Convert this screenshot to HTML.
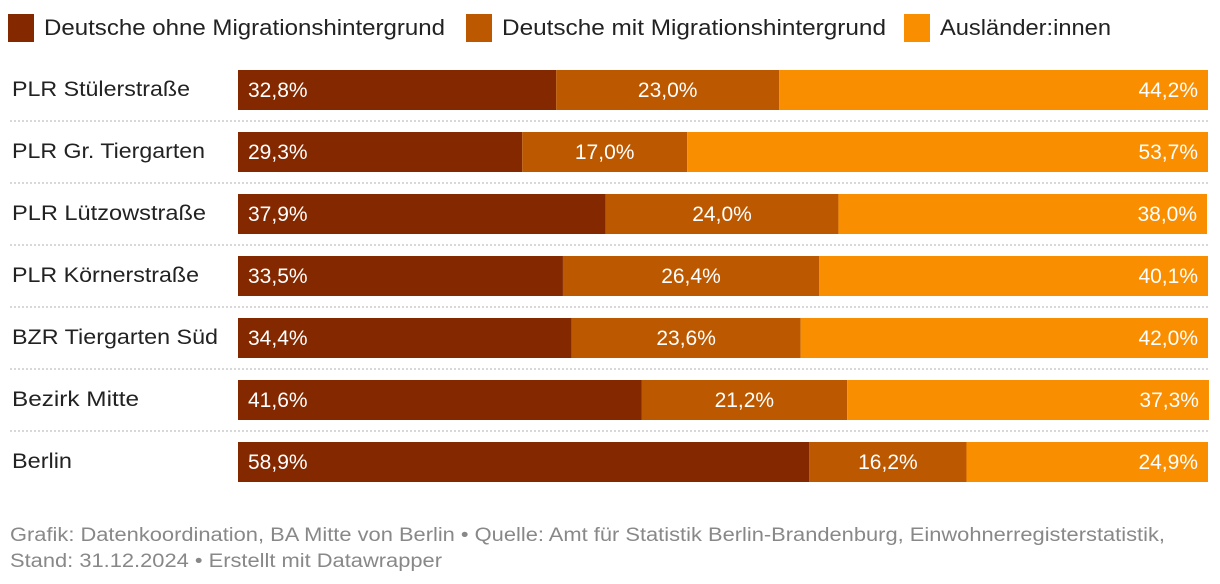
<!DOCTYPE html>
<html><head><meta charset="utf-8">
<style>
body{margin:0;background:#fff;font-family:"Liberation Sans",sans-serif;}
svg{display:block}
</style></head>
<body>
<svg id="chart" width="1220" height="584"></svg>
<script>
const categories=["PLR Stülerstraße","PLR Gr. Tiergarten","PLR Lützowstraße","PLR Körnerstraße","BZR Tiergarten Süd","Bezirk Mitte","Berlin"];
const seriesNames=["Deutsche ohne Migrationshintergrund","Deutsche mit Migrationshintergrund","Ausländer:innen"];
const ohne=[32.8,29.3,37.9,33.5,34.4,41.6,58.9];
const mit=[23.0,17.0,24.0,26.4,23.6,21.2,16.2];
const ausl=[44.2,53.7,38.0,40.1,42.0,37.3,24.9];
const colors=["#842800","#bb5800","#f98e00"];
const NS="http://www.w3.org/2000/svg";
const svg=document.getElementById('chart');
function mk(t,a,txt){const e=document.createElementNS(NS,t);for(const k in a)e.setAttribute(k,a[k]);if(txt!=null)e.textContent=txt;svg.appendChild(e);return e;}
const x0=238,W=970;
const xs=v=>x0+v/100*W;
const ys=i=>70+i*62;
const legX=[8,466,904];
const legW=[401,384,171];
seriesNames.forEach((n,i)=>{
 const r=mk('rect',{x:legX[i],y:14,width:26,height:28,fill:colors[i]});
 
 
 const t=mk('text',{x:legX[i]+36,y:35,'font-size':22,fill:'#222',textLength:legW[i],lengthAdjust:'spacingAndGlyphs'},n);
 
 
});
const labW=[178,193,194,187,206,127,60];
const fmt=v=>v.toFixed(1).replace('.',',')+'%';
categories.forEach((c,i)=>{
 const y=ys(i);
 const lab=mk('text',{x:12,y:y+26,'font-size':21,fill:'#222',textLength:labW[i],lengthAdjust:'spacingAndGlyphs'},c);
 
 
 const vals=[ohne[i],mit[i],ausl[i]];
 let acc=0;
 vals.forEach((v,j)=>{
  const xa=xs(acc),xb=xs(acc+v);
  const r=mk('rect',{x:xa,y:y,width:xb-xa,height:40,fill:colors[j]});
  
  
  let tx,anchor;
  if(j==0){tx=xa+10;anchor='start';}else if(j==1){tx=(xa+xb)/2;anchor='middle';}else{tx=xb-10;anchor='end';}
  const t=mk('text',{x:tx,y:y+27,'font-size':21,fill:'#fff','text-anchor':anchor},fmt(v));
  
  
  acc+=v;
 });
 if(i<categories.length-1){
  const l=mk('line',{x1:10,x2:1208,y1:y+51,y2:y+51,stroke:'#ccc','stroke-width':1.5,'stroke-dasharray':'2,2'});
  
  
 }
});
const f1=mk('text',{x:10,y:541,'font-size':19,fill:'#888',textLength:1155,lengthAdjust:'spacingAndGlyphs'},"Grafik: Datenkoordination, BA Mitte von Berlin • Quelle: Amt für Statistik Berlin-Brandenburg, Einwohnerregisterstatistik,");


const f2=mk('text',{x:10,y:567,'font-size':19,fill:'#888',textLength:432,lengthAdjust:'spacingAndGlyphs'},"Stand: 31.12.2024 • Erstellt mit Datawrapper");


</script>
</body></html>
